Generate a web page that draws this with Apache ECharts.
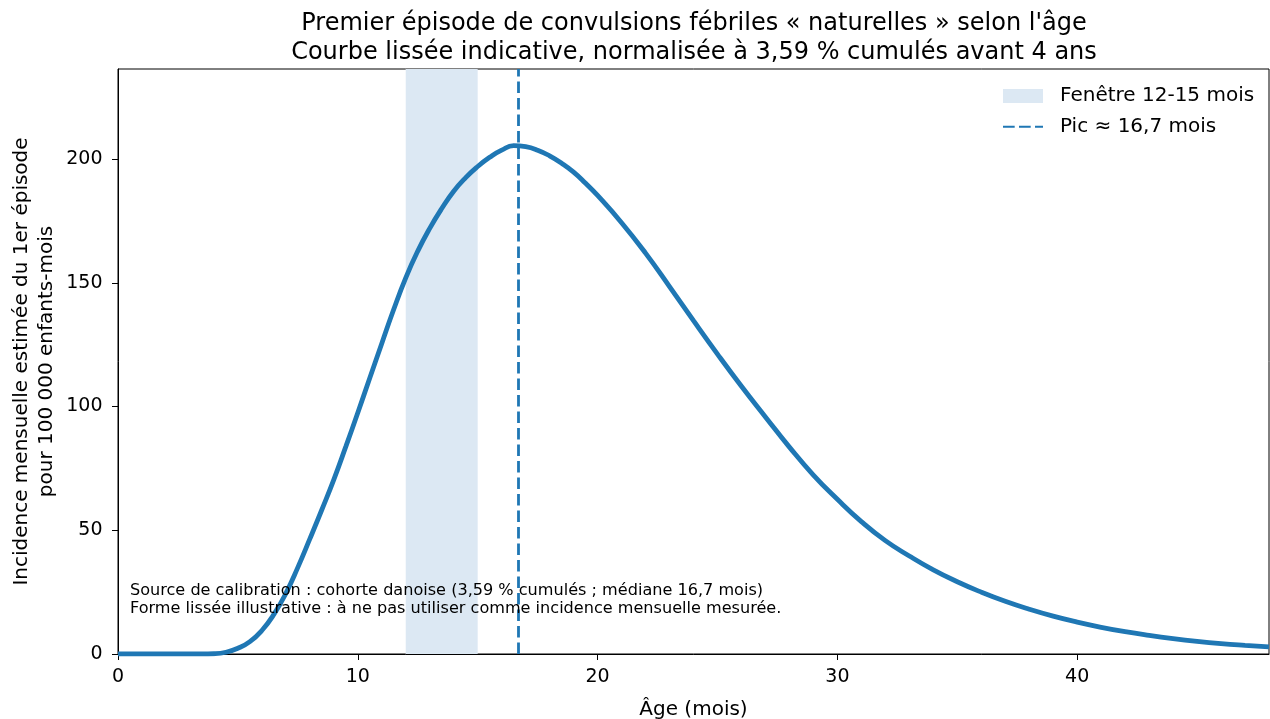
<!DOCTYPE html>
<html>
<head>
<meta charset="utf-8">
<script src="https://cdn.jsdelivr.net/npm/echarts@6/dist/echarts.min.js"></script>
<style>html,body{margin:0;padding:0;background:#fff}#c{width:1270px;height:719px}</style>
</head>
<body>
<div id="c"></div>
<script>
// Age in months (half-month readings where the curve bends most)
const ages = [0,1,2,3,3.5,4,4.5,5,5.5,6,6.5,7,7.5,8,8.5,9,9.5,10,10.5,11,11.5,12,12.5,13,13.5,14,14.5,15,15.5,16,16.5,17,17.5,18,18.5,19,19.5,20,21,22,23,24,25,26,27,28,29,30,31,32,33,34,35,36,37,38,39,40,41,42,43,44,45,46,47,48];
// Estimated monthly incidence of the first episode per 100 000 child-months
const incidence = [0,0,0,0,0,0.1,0.7,2.3,5,9.5,16,24.5,35,46.5,58.3,70.5,83.8,97.5,111.5,125.5,139.3,152,162.8,172,180,187,192.5,197,200.7,203.6,205.4,205,203.6,201.3,198.3,194.7,190.2,185.3,174.3,162,148.5,134.7,121.2,108.2,95.8,83.6,72.3,62.5,53.5,45.8,39.6,34,29.2,25,21.3,18.1,15.3,12.9,10.8,9,7.5,6.2,5.1,4.2,3.5,2.9];
const windowStart = 12, windowEnd = 15;
const peakAge = 16.7;
const xTicks = [0,10,20,30,40];
const yTicks = [0,50,100,150,200];

const FONT = 'DejaVu Sans';
const BLUE = '#1f77b4';
const BAND = '#dce8f3';

const chart = echarts.init(document.getElementById('c'), null, {renderer: 'canvas'});
chart.setOption({
  animation: false,
  backgroundColor: '#fff',
  textStyle: {fontFamily: FONT, color: '#000'},
  title: {
    text: "Premier épisode de convulsions fébriles « naturelles » selon l'âge\nCourbe lissée indicative, normalisée à 3,59 % cumulés avant 4 ans",
    left: 694, top: 10, textAlign: 'center', padding: 0,
    textStyle: {fontFamily: FONT, fontSize: 24, fontWeight: 'normal', color: '#000', lineHeight: 28.5}
  },
  grid: {left: 118, top: 69, width: 1151, height: 585, show: true, borderColor: '#000', borderWidth: 1,
    backgroundColor: 'transparent', containLabel: false, outerBoundsMode: 'none'},
  legend: {
    orient: 'vertical', left: 1002, top: 86, padding: 0, itemWidth: 40, itemHeight: 14, itemGap: 10.7,
    textStyle: {fontFamily: FONT, fontSize: 20, color: '#000', padding: [0, 0, 0, 12]},
    data: [
      {name: 'Fenêtre 12-15 mois', icon: 'rect', itemStyle: {color: BAND}},
      {name: 'Pic ≈ 16,7 mois', itemStyle: {opacity: 0}}
    ]
  },
  xAxis: {
    type: 'value', min: 0, max: 48, interval: 10,
    name: 'Âge (mois)', nameLocation: 'middle', nameGap: 46, nameMoveOverlap: false,
    nameTextStyle: {fontFamily: FONT, fontSize: 20, color: '#000'},
    axisLine: {show: true, lineStyle: {color: '#000', width: 1}},
    axisTick: {show: true, length: 6, lineStyle: {color: '#000'}},
    axisLabel: {fontFamily: FONT, fontSize: 19, color: '#000', margin: 14, showMaxLabel: false,
      formatter: v => xTicks.includes(v) ? String(v) : ''},
    splitLine: {show: false}
  },
  yAxis: {
    type: 'value', min: 0, max: 236.4, interval: 50,
    name: 'Incidence mensuelle estimée du 1er épisode\npour 100 000 enfants-mois',
    nameLocation: 'middle', nameGap: 58, nameRotate: 90, nameMoveOverlap: false,
    nameTextStyle: {fontFamily: FONT, fontSize: 20, color: '#000', lineHeight: 25.5},
    axisLine: {show: true, lineStyle: {color: '#000', width: 1}},
    axisTick: {show: true, length: 6, lineStyle: {color: '#000'}},
    axisLabel: {fontFamily: FONT, fontSize: 19, color: '#000', margin: 15.5, showMaxLabel: false,
      formatter: v => yTicks.includes(v) ? String(v) : ''},
    splitLine: {show: false}
  },
  series: [
    {
      name: 'Fenêtre 12-15 mois', type: 'line', data: [], color: BAND,
      markArea: {silent: true, itemStyle: {color: BAND}, data: [[{xAxis: windowStart}, {xAxis: windowEnd}]]}
    },
    {
      name: 'Courbe', type: 'line', smooth: true, symbol: 'none', z: 3,
      data: ages.map((a, i) => [a, incidence[i]]),
      lineStyle: {color: BLUE, width: 4.8}, itemStyle: {color: BLUE}
    },
    {
      name: 'Pic ≈ 16,7 mois', type: 'line', data: [], symbol: 'none', color: BLUE,
      lineStyle: {color: BLUE, width: 3, type: [11.7, 4.3]},
      markLine: {silent: true, symbol: 'none', label: {show: false},
        lineStyle: {color: BLUE, width: 2.8, type: [11.5, 5]},
        data: [{xAxis: peakAge}]}
    }
  ],
  graphic: [{
    type: 'text', left: 130, top: 582, z: 10,
    style: {
      text: 'Source de calibration : cohorte danoise (3,59 % cumulés ; médiane 16,7 mois)\nForme lissée illustrative : à ne pas utiliser comme incidence mensuelle mesurée.',
      fontFamily: FONT, fontSize: 16.1, lineHeight: 17.7, fill: '#000'
    }
  }]
});
</script>
</body>
</html>
